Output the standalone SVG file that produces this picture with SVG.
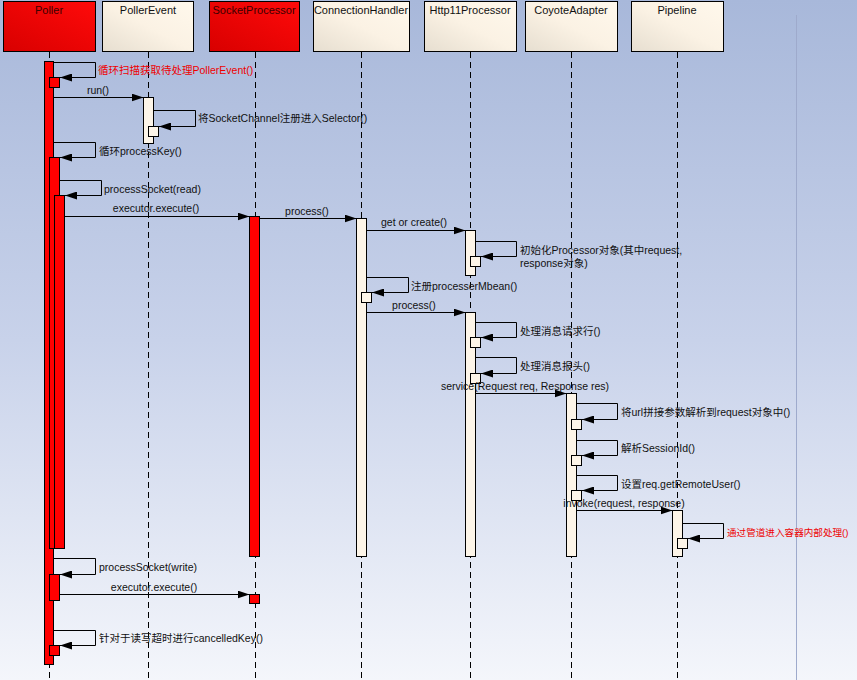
<svg xmlns="http://www.w3.org/2000/svg" width="857" height="680" viewBox="0 0 857 680">
<defs>
<linearGradient id="bg" x1="0" y1="0" x2="0" y2="1">
<stop offset="0" stop-color="#a8b8da"/>
<stop offset="0.5" stop-color="#c8d2ea"/>
<stop offset="1" stop-color="#f4f6fb"/>
</linearGradient>
<linearGradient id="cream" x1="0" y1="1" x2="1" y2="0">
<stop offset="0" stop-color="#e6ded0"/>
<stop offset="0.5" stop-color="#fbf2e4"/>
<stop offset="1" stop-color="#fff8ec"/>
</linearGradient>
<linearGradient id="red" x1="0" y1="1" x2="1" y2="0">
<stop offset="0" stop-color="#d80000"/>
<stop offset="1" stop-color="#ff0a0a"/>
</linearGradient>
<marker id="ah" markerUnits="userSpaceOnUse" markerWidth="12" markerHeight="8" refX="12" refY="4" orient="auto">
<path d="M0,0 L12,4 L0,8 z" fill="#000"/>
</marker>
<style>
.hdr{stroke:#000;stroke-width:1}
.hc{fill:url(#cream)}
.hr{fill:url(#red)}
.ht{font-family:"Liberation Sans","Noto Sans CJK SC",sans-serif;font-size:11px;text-anchor:middle;fill:#111}
.htr{fill:#3a0000}
.life{stroke:#000;stroke-width:1;stroke-dasharray:6,4;fill:none}
.ar{fill:#ff0000;stroke:#000;stroke-width:1}
.ac{fill:#fdf5e8;stroke:#000;stroke-width:1}
.msg{fill:none;stroke:#000;stroke-width:1;marker-end:url(#ah)}
.lb{font-family:"Liberation Sans","Noto Sans CJK SC",sans-serif;font-size:10.5px;fill:#111}
.lm{text-anchor:middle}
.red{fill:#ee0000}
</style>
</defs>
<rect x="0" y="0" width="857" height="680" fill="url(#bg)"/>
<line x1="796.5" y1="15" x2="796.5" y2="680" stroke="#9eaacc" stroke-width="1"/>

<g id="Poller">
<rect class="hdr hr" x="3.5" y="1.5" width="92" height="50"/>
<text class="ht htr" x="49" y="14">Poller</text>
<line class="life" x1="49.5" y1="52" x2="49.5" y2="680"/>
<rect class="ar" x="44.5" y="61.5" width="9" height="603"/>
<rect class="ar" x="49.5" y="77.5" width="10" height="10"/>
<rect class="ar" x="49.5" y="157.5" width="10" height="391"/>
<rect class="ar" x="54.5" y="195.5" width="10" height="353"/>
<rect class="ar" x="49.5" y="574.5" width="10" height="26"/>
<rect class="ar" x="49.5" y="645.5" width="10" height="10"/>
</g>

<g id="PollerEvent">
<rect class="hdr hc" x="102.5" y="1.5" width="91" height="50"/>
<text class="ht" x="148" y="14">PollerEvent</text>
<line class="life" x1="148.5" y1="52" x2="148.5" y2="680"/>
<rect class="ac" x="143.5" y="97.5" width="10" height="46"/>
<rect class="ac" x="148.5" y="126.5" width="10" height="10"/>
</g>

<g id="SocketProcessor">
<rect class="hdr hr" x="209.5" y="1.5" width="90" height="50"/>
<text class="ht htr" x="254" y="14">SocketProcessor</text>
<line class="life" x1="255.5" y1="52" x2="255.5" y2="680"/>
<rect class="ar" x="249.5" y="216.5" width="10" height="340"/>
<rect class="ar" x="249.5" y="594.5" width="10" height="9"/>
</g>

<g id="ConnectionHandler">
<rect class="hdr hc" x="313.5" y="1.5" width="96" height="50"/>
<text class="ht" x="361" y="14">ConnectionHandler</text>
<line class="life" x1="361.5" y1="52" x2="361.5" y2="680"/>
<rect class="ac" x="356.5" y="218.5" width="10" height="338"/>
<rect class="ac" x="361.5" y="292.5" width="10" height="10"/>
</g>

<g id="Http11Processor">
<rect class="hdr hc" x="424.5" y="1.5" width="92" height="50"/>
<text class="ht" x="470" y="14">Http11Processor</text>
<line class="life" x1="470.5" y1="52" x2="470.5" y2="680"/>
<rect class="ac" x="465.5" y="230.5" width="10" height="45"/>
<rect class="ac" x="470.5" y="256.5" width="10" height="10"/>
<rect class="ac" x="465.5" y="312.5" width="10" height="244"/>
<rect class="ac" x="470.5" y="337.5" width="10" height="10"/>
<rect class="ac" x="470.5" y="373.5" width="10" height="10"/>
</g>

<g id="CoyoteAdapter">
<rect class="hdr hc" x="525.5" y="1.5" width="92" height="50"/>
<text class="ht" x="571" y="14">CoyoteAdapter</text>
<line class="life" x1="571.5" y1="52" x2="571.5" y2="680"/>
<rect class="ac" x="566.5" y="393.5" width="10" height="163"/>
<rect class="ac" x="571.5" y="419.5" width="10" height="10"/>
<rect class="ac" x="571.5" y="455.5" width="10" height="10"/>
<rect class="ac" x="571.5" y="490.5" width="10" height="10"/>
</g>

<g id="Pipeline">
<rect class="hdr hc" x="631.5" y="1.5" width="92" height="50"/>
<text class="ht" x="677" y="14">Pipeline</text>
<line class="life" x1="677.5" y1="52" x2="677.5" y2="680"/>
<rect class="ac" x="672.5" y="510.5" width="10" height="46"/>
<rect class="ac" x="677.5" y="538.5" width="10" height="10"/>
</g>

<g id="connectors">
<path class="msg" d="M53.5,62.5 H95.5 V77.5 H60"/>
<text class="lb red" x="98" y="73.5">循环扫描获取待处理PollerEvent()</text>

<path class="msg" d="M53.5,97.5 H143.5"/>
<text class="lb lm" x="98" y="94">run()</text>

<path class="msg" d="M153.5,110.5 H195.5 V126.5 H159"/>
<text class="lb" x="198" y="122">将SocketChannel注册进入Selector()</text>

<path class="msg" d="M53.5,142.5 H95.5 V157.5 H60"/>
<text class="lb" x="99" y="154.5">循环processKey()</text>

<path class="msg" d="M59.5,180.5 H101.5 V195.5 H65"/>
<text class="lb" x="104" y="192.5">processSocket(read)</text>

<path class="msg" d="M64.5,216.5 H249.5"/>
<text class="lb lm" x="156" y="211.5">executor.execute()</text>

<path class="msg" d="M259.5,218.5 H356.5"/>
<text class="lb lm" x="307" y="214.5">process()</text>

<path class="msg" d="M366.5,230.5 H465.5"/>
<text class="lb lm" x="414" y="225.5">get or create()</text>

<path class="msg" d="M475.5,241.5 H516.5 V256.5 H481"/>
<text class="lb" x="520" y="253.5">初始化Processor对象(其中request,</text>
<text class="lb" x="520" y="266.5">response对象)</text>

<path class="msg" d="M366.5,277.5 H408.5 V292.5 H372"/>
<text class="lb" x="411" y="289.5">注册processerMbean()</text>

<path class="msg" d="M366.5,312.5 H465.5"/>
<text class="lb lm" x="414" y="308.5">process()</text>

<path class="msg" d="M475.5,322.5 H516.5 V337.5 H481"/>
<text class="lb" x="520" y="334.5">处理消息请求行()</text>

<path class="msg" d="M475.5,357.5 H516.5 V373.5 H481"/>
<text class="lb" x="520" y="369.5">处理消息报头()</text>

<path class="msg" d="M475.5,393.5 H566.5"/>
<text class="lb lm" x="525" y="389.5">service(Request req, Response res)</text>

<path class="msg" d="M576.5,403.5 H617.5 V419.5 H582"/>
<text class="lb" x="621" y="415.5">将url拼接参数解析到request对象中()</text>

<path class="msg" d="M576.5,440.5 H617.5 V455.5 H582"/>
<text class="lb" x="621" y="452">解析SessionId()</text>

<path class="msg" d="M576.5,475.5 H617.5 V490.5 H582"/>
<text class="lb" x="621" y="487.5">设置req.getRemoteUser()</text>

<path class="msg" d="M576.5,510.5 H672.5"/>
<text class="lb lm" x="624" y="506.5">invoke(request, response)</text>

<path class="msg" d="M682.5,523.5 H723.5 V538.5 H688"/>
<text class="lb red" x="727" y="535.5" style="font-size:9.6px">通过管道进入容器内部处理()</text>

<path class="msg" d="M53.5,558.5 H95.5 V574.5 H60"/>
<text class="lb" x="99" y="570.5">processSocket(write)</text>

<path class="msg" d="M59.5,594.5 H249.5"/>
<text class="lb lm" x="154" y="590.5">executor.execute()</text>

<path class="msg" d="M53.5,630.5 H95.5 V645.5 H60"/>
<text class="lb" x="99" y="642">针对于读写超时进行cancelledKey()</text>
</g>
</svg>
